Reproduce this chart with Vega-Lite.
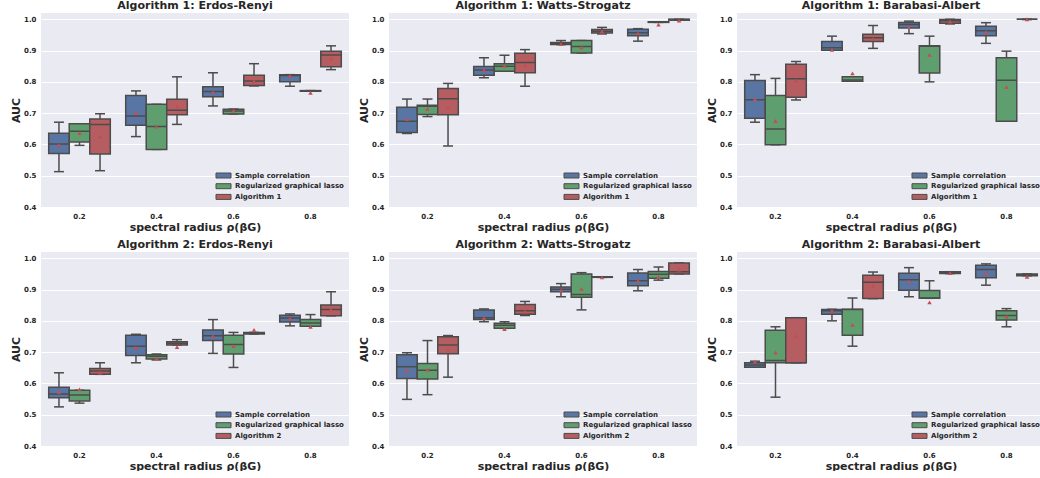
{
  "$schema": "https://vega.github.io/schema/vega-lite/v6.json",
  "padding": {"left": 10, "top": 0, "right": 0, "bottom": 0},
  "spacing": 7,
  "datasets": {
    "d": [
      {"p":"A1ER","r":"0.2","m":"Sample correlation","lo":0.513,"q1":0.571,"md":0.601,"q3":0.636,"hi":0.671,"mn":0.598},
      {"p":"A1ER","r":"0.2","m":"Regularized graphical lasso","lo":0.597,"q1":0.608,"md":0.642,"q3":0.666,"hi":0.666,"mn":0.636},
      {"p":"A1ER","r":"0.2","m":"Algorithm 1","lo":0.516,"q1":0.569,"md":0.664,"q3":0.681,"hi":0.698,"mn":0.625},
      {"p":"A1ER","r":"0.4","m":"Sample correlation","lo":0.625,"q1":0.661,"md":0.691,"q3":0.756,"hi":0.771,"mn":0.701},
      {"p":"A1ER","r":"0.4","m":"Regularized graphical lasso","lo":0.584,"q1":0.584,"md":0.657,"q3":0.728,"hi":0.728,"mn":0.657},
      {"p":"A1ER","r":"0.4","m":"Algorithm 1","lo":0.664,"q1":0.695,"md":0.709,"q3":0.744,"hi":0.816,"mn":0.722},
      {"p":"A1ER","r":"0.6","m":"Sample correlation","lo":0.723,"q1":0.752,"md":0.769,"q3":0.784,"hi":0.829,"mn":0.767},
      {"p":"A1ER","r":"0.6","m":"Regularized graphical lasso","lo":0.697,"q1":0.697,"md":0.707,"q3":0.712,"hi":0.713,"mn":0.708},
      {"p":"A1ER","r":"0.6","m":"Algorithm 1","lo":0.787,"q1":0.788,"md":0.803,"q3":0.821,"hi":0.858,"mn":0.802},
      {"p":"A1ER","r":"0.8","m":"Sample correlation","lo":0.786,"q1":0.800,"md":0.820,"q3":0.823,"hi":0.823,"mn":0.819},
      {"p":"A1ER","r":"0.8","m":"Regularized graphical lasso","lo":0.770,"q1":0.770,"md":0.771,"q3":0.772,"hi":0.772,"mn":0.765},
      {"p":"A1ER","r":"0.8","m":"Algorithm 1","lo":0.839,"q1":0.848,"md":0.886,"q3":0.898,"hi":0.915,"mn":0.875},

      {"p":"A1WS","r":"0.2","m":"Sample correlation","lo":0.635,"q1":0.638,"md":0.674,"q3":0.719,"hi":0.745,"mn":0.681},
      {"p":"A1WS","r":"0.2","m":"Regularized graphical lasso","lo":0.689,"q1":0.696,"md":0.722,"q3":0.725,"hi":0.745,"mn":0.714},
      {"p":"A1WS","r":"0.2","m":"Algorithm 1","lo":0.595,"q1":0.695,"md":0.746,"q3":0.779,"hi":0.795,"mn":0.719},
      {"p":"A1WS","r":"0.4","m":"Sample correlation","lo":0.813,"q1":0.821,"md":0.838,"q3":0.849,"hi":0.877,"mn":0.838},
      {"p":"A1WS","r":"0.4","m":"Regularized graphical lasso","lo":0.834,"q1":0.834,"md":0.850,"q3":0.858,"hi":0.885,"mn":0.851},
      {"p":"A1WS","r":"0.4","m":"Algorithm 1","lo":0.786,"q1":0.829,"md":0.862,"q3":0.891,"hi":0.903,"mn":0.854},
      {"p":"A1WS","r":"0.6","m":"Sample correlation","lo":0.919,"q1":0.919,"md":0.923,"q3":0.926,"hi":0.932,"mn":0.921},
      {"p":"A1WS","r":"0.6","m":"Regularized graphical lasso","lo":0.892,"q1":0.892,"md":0.913,"q3":0.932,"hi":0.932,"mn":0.910},
      {"p":"A1WS","r":"0.6","m":"Algorithm 1","lo":0.953,"q1":0.956,"md":0.962,"q3":0.967,"hi":0.974,"mn":0.961},
      {"p":"A1WS","r":"0.8","m":"Sample correlation","lo":0.930,"q1":0.947,"md":0.957,"q3":0.968,"hi":0.970,"mn":0.955},
      {"p":"A1WS","r":"0.8","m":"Regularized graphical lasso","lo":0.990,"q1":0.990,"md":0.991,"q3":0.992,"hi":0.992,"mn":0.983},
      {"p":"A1WS","r":"0.8","m":"Algorithm 1","lo":0.997,"q1":0.997,"md":0.999,"q3":1.0,"hi":1.0,"mn":0.996},

      {"p":"A1BA","r":"0.2","m":"Sample correlation","lo":0.671,"q1":0.684,"md":0.743,"q3":0.804,"hi":0.823,"mn":0.745},
      {"p":"A1BA","r":"0.2","m":"Regularized graphical lasso","lo":0.599,"q1":0.599,"md":0.649,"q3":0.756,"hi":0.811,"mn":0.675},
      {"p":"A1BA","r":"0.2","m":"Algorithm 1","lo":0.742,"q1":0.751,"md":0.810,"q3":0.856,"hi":0.865,"mn":0.804},
      {"p":"A1BA","r":"0.4","m":"Sample correlation","lo":0.901,"q1":0.901,"md":0.909,"q3":0.929,"hi":0.946,"mn":0.902},
      {"p":"A1BA","r":"0.4","m":"Regularized graphical lasso","lo":0.802,"q1":0.802,"md":0.806,"q3":0.816,"hi":0.816,"mn":0.827},
      {"p":"A1BA","r":"0.4","m":"Algorithm 1","lo":0.907,"q1":0.929,"md":0.941,"q3":0.952,"hi":0.980,"mn":0.937},
      {"p":"A1BA","r":"0.6","m":"Sample correlation","lo":0.954,"q1":0.972,"md":0.983,"q3":0.990,"hi":0.994,"mn":0.975},
      {"p":"A1BA","r":"0.6","m":"Regularized graphical lasso","lo":0.800,"q1":0.828,"md":0.914,"q3":0.915,"hi":0.946,"mn":0.886},
      {"p":"A1BA","r":"0.6","m":"Algorithm 1","lo":0.985,"q1":0.987,"md":0.995,"q3":0.999,"hi":1.0,"mn":0.993},
      {"p":"A1BA","r":"0.8","m":"Sample correlation","lo":0.923,"q1":0.947,"md":0.963,"q3":0.978,"hi":0.989,"mn":0.959},
      {"p":"A1BA","r":"0.8","m":"Regularized graphical lasso","lo":0.674,"q1":0.674,"md":0.805,"q3":0.877,"hi":0.898,"mn":0.783},
      {"p":"A1BA","r":"0.8","m":"Algorithm 1","lo":0.999,"q1":1.0,"md":1.0,"q3":1.0,"hi":1.0,"mn":1.0},

      {"p":"A2ER","r":"0.2","m":"Sample correlation","lo":0.525,"q1":0.554,"md":0.566,"q3":0.588,"hi":0.634,"mn":0.572},
      {"p":"A2ER","r":"0.2","m":"Regularized graphical lasso","lo":0.537,"q1":0.544,"md":0.563,"q3":0.578,"hi":0.578,"mn":0.581},
      {"p":"A2ER","r":"0.2","m":"Algorithm 2","lo":0.629,"q1":0.629,"md":0.640,"q3":0.648,"hi":0.666,"mn":0.635},
      {"p":"A2ER","r":"0.4","m":"Sample correlation","lo":0.666,"q1":0.689,"md":0.719,"q3":0.754,"hi":0.757,"mn":0.714},
      {"p":"A2ER","r":"0.4","m":"Regularized graphical lasso","lo":0.675,"q1":0.678,"md":0.687,"q3":0.692,"hi":0.694,"mn":0.680},
      {"p":"A2ER","r":"0.4","m":"Algorithm 2","lo":0.723,"q1":0.723,"md":0.728,"q3":0.733,"hi":0.740,"mn":0.716},
      {"p":"A2ER","r":"0.6","m":"Sample correlation","lo":0.696,"q1":0.737,"md":0.752,"q3":0.771,"hi":0.804,"mn":0.751},
      {"p":"A2ER","r":"0.6","m":"Regularized graphical lasso","lo":0.651,"q1":0.694,"md":0.724,"q3":0.754,"hi":0.763,"mn":0.719},
      {"p":"A2ER","r":"0.6","m":"Algorithm 2","lo":0.758,"q1":0.758,"md":0.761,"q3":0.763,"hi":0.763,"mn":0.771},
      {"p":"A2ER","r":"0.8","m":"Sample correlation","lo":0.784,"q1":0.796,"md":0.809,"q3":0.818,"hi":0.822,"mn":0.807},
      {"p":"A2ER","r":"0.8","m":"Regularized graphical lasso","lo":0.783,"q1":0.783,"md":0.793,"q3":0.804,"hi":0.820,"mn":0.781},
      {"p":"A2ER","r":"0.8","m":"Algorithm 2","lo":0.816,"q1":0.816,"md":0.836,"q3":0.851,"hi":0.893,"mn":0.836},

      {"p":"A2WS","r":"0.2","m":"Sample correlation","lo":0.549,"q1":0.616,"md":0.653,"q3":0.692,"hi":0.698,"mn":0.642},
      {"p":"A2WS","r":"0.2","m":"Regularized graphical lasso","lo":0.564,"q1":0.614,"md":0.642,"q3":0.664,"hi":0.737,"mn":0.644},
      {"p":"A2WS","r":"0.2","m":"Algorithm 2","lo":0.620,"q1":0.695,"md":0.723,"q3":0.749,"hi":0.753,"mn":0.708},
      {"p":"A2WS","r":"0.4","m":"Sample correlation","lo":0.797,"q1":0.804,"md":0.810,"q3":0.835,"hi":0.838,"mn":0.809},
      {"p":"A2WS","r":"0.4","m":"Regularized graphical lasso","lo":0.776,"q1":0.776,"md":0.786,"q3":0.792,"hi":0.797,"mn":0.774},
      {"p":"A2WS","r":"0.4","m":"Algorithm 2","lo":0.817,"q1":0.821,"md":0.832,"q3":0.852,"hi":0.862,"mn":0.829},
      {"p":"A2WS","r":"0.6","m":"Sample correlation","lo":0.877,"q1":0.893,"md":0.901,"q3":0.908,"hi":0.919,"mn":0.897},
      {"p":"A2WS","r":"0.6","m":"Regularized graphical lasso","lo":0.835,"q1":0.875,"md":0.884,"q3":0.950,"hi":0.954,"mn":0.902},
      {"p":"A2WS","r":"0.6","m":"Algorithm 2","lo":0.939,"q1":0.939,"md":0.940,"q3":0.941,"hi":0.941,"mn":0.939},
      {"p":"A2WS","r":"0.8","m":"Sample correlation","lo":0.896,"q1":0.912,"md":0.928,"q3":0.953,"hi":0.964,"mn":0.928},
      {"p":"A2WS","r":"0.8","m":"Regularized graphical lasso","lo":0.930,"q1":0.936,"md":0.949,"q3":0.958,"hi":0.972,"mn":0.940},
      {"p":"A2WS","r":"0.8","m":"Algorithm 2","lo":0.950,"q1":0.950,"md":0.957,"q3":0.985,"hi":0.985,"mn":0.964},

      {"p":"A2BA","r":"0.2","m":"Sample correlation","lo":0.652,"q1":0.652,"md":0.659,"q3":0.666,"hi":0.671,"mn":0.670},
      {"p":"A2BA","r":"0.2","m":"Regularized graphical lasso","lo":0.556,"q1":0.666,"md":0.673,"q3":0.770,"hi":0.781,"mn":0.699},
      {"p":"A2BA","r":"0.2","m":"Algorithm 2","lo":0.666,"q1":0.666,"md":0.666,"q3":0.810,"hi":0.810,"mn":0.751},
      {"p":"A2BA","r":"0.4","m":"Sample correlation","lo":0.800,"q1":0.821,"md":0.832,"q3":0.836,"hi":0.837,"mn":0.832},
      {"p":"A2BA","r":"0.4","m":"Regularized graphical lasso","lo":0.719,"q1":0.754,"md":0.836,"q3":0.837,"hi":0.873,"mn":0.787},
      {"p":"A2BA","r":"0.4","m":"Algorithm 2","lo":0.871,"q1":0.871,"md":0.923,"q3":0.946,"hi":0.956,"mn":0.912},
      {"p":"A2BA","r":"0.6","m":"Sample correlation","lo":0.877,"q1":0.898,"md":0.931,"q3":0.952,"hi":0.970,"mn":0.926},
      {"p":"A2BA","r":"0.6","m":"Regularized graphical lasso","lo":0.872,"q1":0.872,"md":0.873,"q3":0.897,"hi":0.928,"mn":0.859},
      {"p":"A2BA","r":"0.6","m":"Algorithm 2","lo":0.951,"q1":0.951,"md":0.955,"q3":0.957,"hi":0.957,"mn":0.953},
      {"p":"A2BA","r":"0.8","m":"Sample correlation","lo":0.914,"q1":0.938,"md":0.964,"q3":0.978,"hi":0.982,"mn":0.953},
      {"p":"A2BA","r":"0.8","m":"Regularized graphical lasso","lo":0.781,"q1":0.803,"md":0.817,"q3":0.832,"hi":0.839,"mn":0.814},
      {"p":"A2BA","r":"0.8","m":"Algorithm 2","lo":0.944,"q1":0.944,"md":0.947,"q3":0.950,"hi":0.950,"mn":0.941}
    ]
  },
  "config": {
    "font": "DejaVu Sans",
    "view": {"fill": "#EAEAF2", "stroke": null},
    "axis": {"domain": false, "ticks": false, "labelFontSize": 7, "labelFontWeight": "bold", "labelColor": "#262626", "titleFontSize": 11, "titleFontWeight": "bold", "titleColor": "#262626", "gridColor": "#FFFFFF", "gridWidth": 1, "gridOpacity": 1},
    "axisX": {"grid": false, "labelPadding": 5, "titlePadding": 2, "labelAngle": 0},
    "axisY": {"labelPadding": 5, "titlePadding": 2, "tickCount": 7, "format": ".1f"},
    "title": {"fontSize": 11, "fontWeight": "bold", "color": "#262626", "offset": 2},
    "legend": {"orient": "bottom-right", "offset": 5, "padding": 0, "symbolType": "M-1.5,-0.5L1.5,-0.5L1.5,0.5L-1.5,0.5Z", "symbolSize": 100, "symbolStrokeColor": "#4C4C4C", "symbolStrokeWidth": 1, "symbolOpacity": 1, "labelFontSize": 7, "labelFontWeight": "bold", "labelColor": "#262626", "labelOffset": 6, "rowPadding": 0.7},
    "concat": {"spacing": 9}
  },
  "resolve": {"scale": {"color": "independent", "xOffset": "independent", "x": "independent", "y": "independent"}, "legend": {"color": "independent"}},
  "vconcat": [
    {
      "hconcat": [
        {
          "title": "Algorithm 1: Erdos-Renyi", "width": 308, "height": 194,
          "data": {"name": "d"}, "transform": [{"filter": "datum.p === 'A1ER'"}],
          "encoding": {
            "x": {"field": "r", "type": "nominal", "scale": {"paddingInner": 0.2, "paddingOuter": 0.1}, "axis": {"title": "spectral radius ρ(βG)"}},
            "xOffset": {"field": "m", "type": "nominal", "scale": {"domain": ["Sample correlation", "Regularized graphical lasso", "Algorithm 1"], "paddingInner": 0, "paddingOuter": 0}}
          },
          "layer": [
            {"mark": {"type": "rule", "color": "#4C4C4C", "strokeWidth": 1.5}, "encoding": {"y": {"field": "lo", "type": "quantitative", "title": "AUC", "scale": {"domain": [0.4, 1.02], "nice": false, "zero": false}, "axis": {"values": [0.4, 0.5, 0.6, 0.7, 0.8, 0.9, 1.0], "format": ".1f"}}, "y2": {"field": "hi"}}},
            {"mark": {"type": "tick", "color": "#4C4C4C", "size": 10, "thickness": 1.5, "opacity": 1}, "encoding": {"y": {"field": "lo", "type": "quantitative", "title": "AUC", "axis": {"values": [0.4, 0.5, 0.6, 0.7, 0.8, 0.9, 1.0], "format": ".1f"}}}},
            {"mark": {"type": "tick", "color": "#4C4C4C", "size": 10, "thickness": 1.5, "opacity": 1}, "encoding": {"y": {"field": "hi", "type": "quantitative", "title": "AUC", "axis": {"values": [0.4, 0.5, 0.6, 0.7, 0.8, 0.9, 1.0], "format": ".1f"}}}},
            {"mark": {"type": "bar", "stroke": "#4C4C4C", "strokeWidth": 1.5, "opacity": 1}, "encoding": {"y": {"field": "q1", "type": "quantitative", "title": "AUC", "axis": {"values": [0.4, 0.5, 0.6, 0.7, 0.8, 0.9, 1.0], "format": ".1f"}}, "y2": {"field": "q3"}, "color": {"field": "m", "type": "nominal", "scale": {"domain": ["Sample correlation", "Regularized graphical lasso", "Algorithm 1"], "range": ["#5875A4", "#5F9E6E", "#B55D60"]}, "legend": {"title": null}}}},
            {"mark": {"type": "bar", "fill": null, "stroke": "#4C4C4C", "strokeWidth": 1.5}, "encoding": {"y": {"field": "md", "type": "quantitative", "title": "AUC", "axis": {"values": [0.4, 0.5, 0.6, 0.7, 0.8, 0.9, 1.0], "format": ".1f"}}, "y2": {"field": "md"}}},
            {"mark": {"type": "point", "shape": "triangle-up", "filled": true, "color": "#C44E52", "size": 20, "opacity": 1}, "encoding": {"y": {"field": "mn", "type": "quantitative", "title": "AUC", "axis": {"values": [0.4, 0.5, 0.6, 0.7, 0.8, 0.9, 1.0], "format": ".1f"}}}}
          ]
        },
        {
          "title": "Algorithm 1: Watts-Strogatz", "width": 308, "height": 194,
          "data": {"name": "d"}, "transform": [{"filter": "datum.p === 'A1WS'"}],
          "encoding": {
            "x": {"field": "r", "type": "nominal", "scale": {"paddingInner": 0.2, "paddingOuter": 0.1}, "axis": {"title": "spectral radius ρ(βG)"}},
            "xOffset": {"field": "m", "type": "nominal", "scale": {"domain": ["Sample correlation", "Regularized graphical lasso", "Algorithm 1"], "paddingInner": 0, "paddingOuter": 0}}
          },
          "layer": [
            {"mark": {"type": "rule", "color": "#4C4C4C", "strokeWidth": 1.5}, "encoding": {"y": {"field": "lo", "type": "quantitative", "title": "AUC", "scale": {"domain": [0.4, 1.02], "nice": false, "zero": false}, "axis": {"values": [0.4, 0.5, 0.6, 0.7, 0.8, 0.9, 1.0], "format": ".1f"}}, "y2": {"field": "hi"}}},
            {"mark": {"type": "tick", "color": "#4C4C4C", "size": 10, "thickness": 1.5, "opacity": 1}, "encoding": {"y": {"field": "lo", "type": "quantitative", "title": "AUC", "axis": {"values": [0.4, 0.5, 0.6, 0.7, 0.8, 0.9, 1.0], "format": ".1f"}}}},
            {"mark": {"type": "tick", "color": "#4C4C4C", "size": 10, "thickness": 1.5, "opacity": 1}, "encoding": {"y": {"field": "hi", "type": "quantitative", "title": "AUC", "axis": {"values": [0.4, 0.5, 0.6, 0.7, 0.8, 0.9, 1.0], "format": ".1f"}}}},
            {"mark": {"type": "bar", "stroke": "#4C4C4C", "strokeWidth": 1.5, "opacity": 1}, "encoding": {"y": {"field": "q1", "type": "quantitative", "title": "AUC", "axis": {"values": [0.4, 0.5, 0.6, 0.7, 0.8, 0.9, 1.0], "format": ".1f"}}, "y2": {"field": "q3"}, "color": {"field": "m", "type": "nominal", "scale": {"domain": ["Sample correlation", "Regularized graphical lasso", "Algorithm 1"], "range": ["#5875A4", "#5F9E6E", "#B55D60"]}, "legend": {"title": null}}}},
            {"mark": {"type": "bar", "fill": null, "stroke": "#4C4C4C", "strokeWidth": 1.5}, "encoding": {"y": {"field": "md", "type": "quantitative", "title": "AUC", "axis": {"values": [0.4, 0.5, 0.6, 0.7, 0.8, 0.9, 1.0], "format": ".1f"}}, "y2": {"field": "md"}}},
            {"mark": {"type": "point", "shape": "triangle-up", "filled": true, "color": "#C44E52", "size": 20, "opacity": 1}, "encoding": {"y": {"field": "mn", "type": "quantitative", "title": "AUC", "axis": {"values": [0.4, 0.5, 0.6, 0.7, 0.8, 0.9, 1.0], "format": ".1f"}}}}
          ]
        },
        {
          "title": "Algorithm 1: Barabasi-Albert", "width": 308, "height": 194,
          "data": {"name": "d"}, "transform": [{"filter": "datum.p === 'A1BA'"}],
          "encoding": {
            "x": {"field": "r", "type": "nominal", "scale": {"paddingInner": 0.2, "paddingOuter": 0.1}, "axis": {"title": "spectral radius ρ(βG)"}},
            "xOffset": {"field": "m", "type": "nominal", "scale": {"domain": ["Sample correlation", "Regularized graphical lasso", "Algorithm 1"], "paddingInner": 0, "paddingOuter": 0}}
          },
          "layer": [
            {"mark": {"type": "rule", "color": "#4C4C4C", "strokeWidth": 1.5}, "encoding": {"y": {"field": "lo", "type": "quantitative", "title": "AUC", "scale": {"domain": [0.4, 1.02], "nice": false, "zero": false}, "axis": {"values": [0.4, 0.5, 0.6, 0.7, 0.8, 0.9, 1.0], "format": ".1f"}}, "y2": {"field": "hi"}}},
            {"mark": {"type": "tick", "color": "#4C4C4C", "size": 10, "thickness": 1.5, "opacity": 1}, "encoding": {"y": {"field": "lo", "type": "quantitative", "title": "AUC", "axis": {"values": [0.4, 0.5, 0.6, 0.7, 0.8, 0.9, 1.0], "format": ".1f"}}}},
            {"mark": {"type": "tick", "color": "#4C4C4C", "size": 10, "thickness": 1.5, "opacity": 1}, "encoding": {"y": {"field": "hi", "type": "quantitative", "title": "AUC", "axis": {"values": [0.4, 0.5, 0.6, 0.7, 0.8, 0.9, 1.0], "format": ".1f"}}}},
            {"mark": {"type": "bar", "stroke": "#4C4C4C", "strokeWidth": 1.5, "opacity": 1}, "encoding": {"y": {"field": "q1", "type": "quantitative", "title": "AUC", "axis": {"values": [0.4, 0.5, 0.6, 0.7, 0.8, 0.9, 1.0], "format": ".1f"}}, "y2": {"field": "q3"}, "color": {"field": "m", "type": "nominal", "scale": {"domain": ["Sample correlation", "Regularized graphical lasso", "Algorithm 1"], "range": ["#5875A4", "#5F9E6E", "#B55D60"]}, "legend": {"title": null}}}},
            {"mark": {"type": "bar", "fill": null, "stroke": "#4C4C4C", "strokeWidth": 1.5}, "encoding": {"y": {"field": "md", "type": "quantitative", "title": "AUC", "axis": {"values": [0.4, 0.5, 0.6, 0.7, 0.8, 0.9, 1.0], "format": ".1f"}}, "y2": {"field": "md"}}},
            {"mark": {"type": "point", "shape": "triangle-up", "filled": true, "color": "#C44E52", "size": 20, "opacity": 1}, "encoding": {"y": {"field": "mn", "type": "quantitative", "title": "AUC", "axis": {"values": [0.4, 0.5, 0.6, 0.7, 0.8, 0.9, 1.0], "format": ".1f"}}}}
          ]
        }
      ],
      "resolve": {"scale": {"color": "independent", "xOffset": "independent", "x": "independent", "y": "independent"}, "legend": {"color": "independent"}}
    },
    {
      "hconcat": [
        {
          "title": "Algorithm 2: Erdos-Renyi", "width": 308, "height": 194,
          "data": {"name": "d"}, "transform": [{"filter": "datum.p === 'A2ER'"}],
          "encoding": {
            "x": {"field": "r", "type": "nominal", "scale": {"paddingInner": 0.2, "paddingOuter": 0.1}, "axis": {"title": "spectral radius ρ(βG)"}},
            "xOffset": {"field": "m", "type": "nominal", "scale": {"domain": ["Sample correlation", "Regularized graphical lasso", "Algorithm 2"], "paddingInner": 0, "paddingOuter": 0}}
          },
          "layer": [
            {"mark": {"type": "rule", "color": "#4C4C4C", "strokeWidth": 1.5}, "encoding": {"y": {"field": "lo", "type": "quantitative", "title": "AUC", "scale": {"domain": [0.4, 1.02], "nice": false, "zero": false}, "axis": {"values": [0.4, 0.5, 0.6, 0.7, 0.8, 0.9, 1.0], "format": ".1f"}}, "y2": {"field": "hi"}}},
            {"mark": {"type": "tick", "color": "#4C4C4C", "size": 10, "thickness": 1.5, "opacity": 1}, "encoding": {"y": {"field": "lo", "type": "quantitative", "title": "AUC", "axis": {"values": [0.4, 0.5, 0.6, 0.7, 0.8, 0.9, 1.0], "format": ".1f"}}}},
            {"mark": {"type": "tick", "color": "#4C4C4C", "size": 10, "thickness": 1.5, "opacity": 1}, "encoding": {"y": {"field": "hi", "type": "quantitative", "title": "AUC", "axis": {"values": [0.4, 0.5, 0.6, 0.7, 0.8, 0.9, 1.0], "format": ".1f"}}}},
            {"mark": {"type": "bar", "stroke": "#4C4C4C", "strokeWidth": 1.5, "opacity": 1}, "encoding": {"y": {"field": "q1", "type": "quantitative", "title": "AUC", "axis": {"values": [0.4, 0.5, 0.6, 0.7, 0.8, 0.9, 1.0], "format": ".1f"}}, "y2": {"field": "q3"}, "color": {"field": "m", "type": "nominal", "scale": {"domain": ["Sample correlation", "Regularized graphical lasso", "Algorithm 2"], "range": ["#5875A4", "#5F9E6E", "#B55D60"]}, "legend": {"title": null}}}},
            {"mark": {"type": "bar", "fill": null, "stroke": "#4C4C4C", "strokeWidth": 1.5}, "encoding": {"y": {"field": "md", "type": "quantitative", "title": "AUC", "axis": {"values": [0.4, 0.5, 0.6, 0.7, 0.8, 0.9, 1.0], "format": ".1f"}}, "y2": {"field": "md"}}},
            {"mark": {"type": "point", "shape": "triangle-up", "filled": true, "color": "#C44E52", "size": 20, "opacity": 1}, "encoding": {"y": {"field": "mn", "type": "quantitative", "title": "AUC", "axis": {"values": [0.4, 0.5, 0.6, 0.7, 0.8, 0.9, 1.0], "format": ".1f"}}}}
          ]
        },
        {
          "title": "Algorithm 2: Watts-Strogatz", "width": 308, "height": 194,
          "data": {"name": "d"}, "transform": [{"filter": "datum.p === 'A2WS'"}],
          "encoding": {
            "x": {"field": "r", "type": "nominal", "scale": {"paddingInner": 0.2, "paddingOuter": 0.1}, "axis": {"title": "spectral radius ρ(βG)"}},
            "xOffset": {"field": "m", "type": "nominal", "scale": {"domain": ["Sample correlation", "Regularized graphical lasso", "Algorithm 2"], "paddingInner": 0, "paddingOuter": 0}}
          },
          "layer": [
            {"mark": {"type": "rule", "color": "#4C4C4C", "strokeWidth": 1.5}, "encoding": {"y": {"field": "lo", "type": "quantitative", "title": "AUC", "scale": {"domain": [0.4, 1.02], "nice": false, "zero": false}, "axis": {"values": [0.4, 0.5, 0.6, 0.7, 0.8, 0.9, 1.0], "format": ".1f"}}, "y2": {"field": "hi"}}},
            {"mark": {"type": "tick", "color": "#4C4C4C", "size": 10, "thickness": 1.5, "opacity": 1}, "encoding": {"y": {"field": "lo", "type": "quantitative", "title": "AUC", "axis": {"values": [0.4, 0.5, 0.6, 0.7, 0.8, 0.9, 1.0], "format": ".1f"}}}},
            {"mark": {"type": "tick", "color": "#4C4C4C", "size": 10, "thickness": 1.5, "opacity": 1}, "encoding": {"y": {"field": "hi", "type": "quantitative", "title": "AUC", "axis": {"values": [0.4, 0.5, 0.6, 0.7, 0.8, 0.9, 1.0], "format": ".1f"}}}},
            {"mark": {"type": "bar", "stroke": "#4C4C4C", "strokeWidth": 1.5, "opacity": 1}, "encoding": {"y": {"field": "q1", "type": "quantitative", "title": "AUC", "axis": {"values": [0.4, 0.5, 0.6, 0.7, 0.8, 0.9, 1.0], "format": ".1f"}}, "y2": {"field": "q3"}, "color": {"field": "m", "type": "nominal", "scale": {"domain": ["Sample correlation", "Regularized graphical lasso", "Algorithm 2"], "range": ["#5875A4", "#5F9E6E", "#B55D60"]}, "legend": {"title": null}}}},
            {"mark": {"type": "bar", "fill": null, "stroke": "#4C4C4C", "strokeWidth": 1.5}, "encoding": {"y": {"field": "md", "type": "quantitative", "title": "AUC", "axis": {"values": [0.4, 0.5, 0.6, 0.7, 0.8, 0.9, 1.0], "format": ".1f"}}, "y2": {"field": "md"}}},
            {"mark": {"type": "point", "shape": "triangle-up", "filled": true, "color": "#C44E52", "size": 20, "opacity": 1}, "encoding": {"y": {"field": "mn", "type": "quantitative", "title": "AUC", "axis": {"values": [0.4, 0.5, 0.6, 0.7, 0.8, 0.9, 1.0], "format": ".1f"}}}}
          ]
        },
        {
          "title": "Algorithm 2: Barabasi-Albert", "width": 308, "height": 194,
          "data": {"name": "d"}, "transform": [{"filter": "datum.p === 'A2BA'"}],
          "encoding": {
            "x": {"field": "r", "type": "nominal", "scale": {"paddingInner": 0.2, "paddingOuter": 0.1}, "axis": {"title": "spectral radius ρ(βG)"}},
            "xOffset": {"field": "m", "type": "nominal", "scale": {"domain": ["Sample correlation", "Regularized graphical lasso", "Algorithm 2"], "paddingInner": 0, "paddingOuter": 0}}
          },
          "layer": [
            {"mark": {"type": "rule", "color": "#4C4C4C", "strokeWidth": 1.5}, "encoding": {"y": {"field": "lo", "type": "quantitative", "title": "AUC", "scale": {"domain": [0.4, 1.02], "nice": false, "zero": false}, "axis": {"values": [0.4, 0.5, 0.6, 0.7, 0.8, 0.9, 1.0], "format": ".1f"}}, "y2": {"field": "hi"}}},
            {"mark": {"type": "tick", "color": "#4C4C4C", "size": 10, "thickness": 1.5, "opacity": 1}, "encoding": {"y": {"field": "lo", "type": "quantitative", "title": "AUC", "axis": {"values": [0.4, 0.5, 0.6, 0.7, 0.8, 0.9, 1.0], "format": ".1f"}}}},
            {"mark": {"type": "tick", "color": "#4C4C4C", "size": 10, "thickness": 1.5, "opacity": 1}, "encoding": {"y": {"field": "hi", "type": "quantitative", "title": "AUC", "axis": {"values": [0.4, 0.5, 0.6, 0.7, 0.8, 0.9, 1.0], "format": ".1f"}}}},
            {"mark": {"type": "bar", "stroke": "#4C4C4C", "strokeWidth": 1.5, "opacity": 1}, "encoding": {"y": {"field": "q1", "type": "quantitative", "title": "AUC", "axis": {"values": [0.4, 0.5, 0.6, 0.7, 0.8, 0.9, 1.0], "format": ".1f"}}, "y2": {"field": "q3"}, "color": {"field": "m", "type": "nominal", "scale": {"domain": ["Sample correlation", "Regularized graphical lasso", "Algorithm 2"], "range": ["#5875A4", "#5F9E6E", "#B55D60"]}, "legend": {"title": null}}}},
            {"mark": {"type": "bar", "fill": null, "stroke": "#4C4C4C", "strokeWidth": 1.5}, "encoding": {"y": {"field": "md", "type": "quantitative", "title": "AUC", "axis": {"values": [0.4, 0.5, 0.6, 0.7, 0.8, 0.9, 1.0], "format": ".1f"}}, "y2": {"field": "md"}}},
            {"mark": {"type": "point", "shape": "triangle-up", "filled": true, "color": "#C44E52", "size": 20, "opacity": 1}, "encoding": {"y": {"field": "mn", "type": "quantitative", "title": "AUC", "axis": {"values": [0.4, 0.5, 0.6, 0.7, 0.8, 0.9, 1.0], "format": ".1f"}}}}
          ]
        }
      ],
      "resolve": {"scale": {"color": "independent", "xOffset": "independent", "x": "independent", "y": "independent"}, "legend": {"color": "independent"}}
    }
  ]
}
